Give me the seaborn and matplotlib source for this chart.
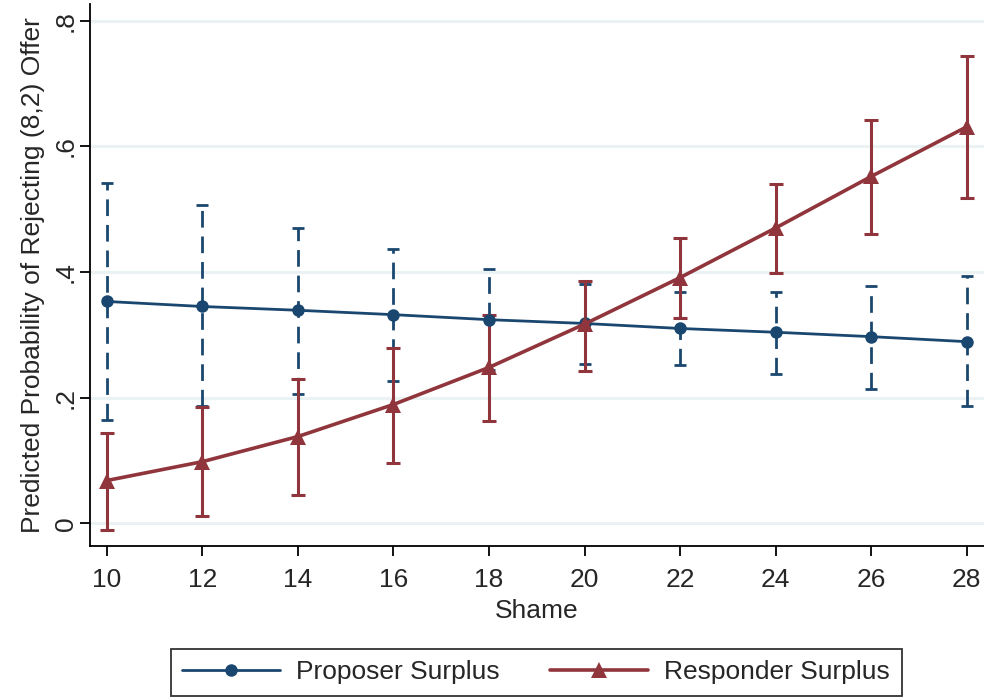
import numpy as np
import pandas as pd
import matplotlib
matplotlib.use("Agg")
import matplotlib.pyplot as plt
import seaborn as sns
from matplotlib.lines import Line2D

# Predicted probabilities and 95% CIs by Shame score
shame = [10, 12, 14, 16, 18, 20, 22, 24, 26, 28]

proposer_p = [0.353, 0.345, 0.339, 0.332, 0.324, 0.318, 0.310, 0.304, 0.297, 0.289]
proposer_lo = [0.164, 0.186, 0.206, 0.226, 0.244, 0.253, 0.252, 0.238, 0.213, 0.186]
proposer_hi = [0.542, 0.506, 0.470, 0.436, 0.405, 0.381, 0.368, 0.368, 0.378, 0.393]

responder_p = [0.068, 0.098, 0.138, 0.189, 0.248, 0.317, 0.391, 0.470, 0.552, 0.631]
responder_lo = [-0.010, 0.011, 0.045, 0.096, 0.162, 0.243, 0.326, 0.398, 0.460, 0.517]
responder_hi = [0.144, 0.185, 0.230, 0.279, 0.332, 0.385, 0.454, 0.540, 0.641, 0.743]

series = ["Proposer Surplus", "Responder Surplus"]
y_ticks = [0, 0.2, 0.4, 0.6, 0.8]
y_ticklabels = ["0", ".2", ".4", ".6", ".8"]

NAVY = "#1A476F"
MAROON = "#90353B"
GRID = "#EAF2F3"

df = pd.DataFrame({
    "Shame": shame * 2,
    "p": proposer_p + responder_p,
    "group": [series[0]] * len(shame) + [series[1]] * len(shame),
})

sns.set_theme(style="white")
plt.rcParams["font.family"] = ["Liberation Sans", "DejaVu Sans"]
FS = 19

fig = plt.figure(figsize=(9.84, 7.0), dpi=100)
ax = fig.add_axes([90 / 984, 1 - 545.7 / 700, 1 - 90 / 984, (545.7 - 4) / 700])

for y in y_ticks:
    ax.axhline(y, color=GRID, lw=2.2, zorder=0)

# confidence intervals
eb1 = ax.errorbar(shame, proposer_p,
                  yerr=[np.subtract(proposer_p, proposer_lo), np.subtract(proposer_hi, proposer_p)],
                  fmt="none", ecolor=NAVY, elinewidth=2.0, capsize=4, capthick=2.0, zorder=2)
eb1[2][0].set_linestyle((0, (6, 3.2)))
ax.errorbar(shame, responder_p,
            yerr=[np.subtract(responder_p, responder_lo), np.subtract(responder_hi, responder_p)],
            fmt="none", ecolor=MAROON, elinewidth=2.2, capsize=5, capthick=2.2, zorder=3)

sns.lineplot(data=df[df.group == series[0]], x="Shame", y="p", ax=ax, color=NAVY,
             lw=2.0, marker="o", markersize=9, markeredgewidth=0, zorder=4, legend=False)
sns.lineplot(data=df[df.group == series[1]], x="Shame", y="p", ax=ax, color=MAROON,
             lw=2.6, marker="^", markersize=11.5, markeredgewidth=0, zorder=5, legend=False)

ax.set_xlim(9.65, 28.36)
ax.set_ylim(-0.0357, 0.8264)
ax.set_xticks(shame)
ax.set_xticklabels([str(s) for s in shame], fontsize=FS)
ax.set_yticks(y_ticks)
ax.set_yticklabels(y_ticklabels, fontsize=FS, rotation=90, va="center")
ax.tick_params(axis="both", direction="out", length=7, width=1.3, color="black",
               bottom=True, left=True)
ax.tick_params(axis="x", pad=9)
ax.tick_params(axis="y", pad=2)
for s in ["top", "right"]:
    ax.spines[s].set_visible(False)
for s in ["left", "bottom"]:
    ax.spines[s].set_color("black")
    ax.spines[s].set_linewidth(1.3)

ax.set_xlabel("Shame", fontsize=FS, labelpad=5)
ax.set_ylabel("Predicted Probability of Rejecting (8,2) Offer", fontsize=FS, labelpad=6)

handles = [
    Line2D([], [], color=NAVY, lw=2.0, marker="o", markersize=9, markeredgewidth=0),
    Line2D([], [], color=MAROON, lw=2.6, marker="^", markersize=11.5, markeredgewidth=0),
]
leg = fig.legend(handles, series, loc="center", bbox_to_anchor=(536 / 984, 1 - 672.5 / 700),
                 ncol=2, fontsize=FS, frameon=True, fancybox=False, edgecolor="black",
                 handlelength=3.7, handletextpad=0.6, columnspacing=1.93,
                 borderpad=0.45, borderaxespad=0)
leg.get_frame().set_linewidth(1.3)

fig.savefig("out.png", dpi=100, facecolor="white")
